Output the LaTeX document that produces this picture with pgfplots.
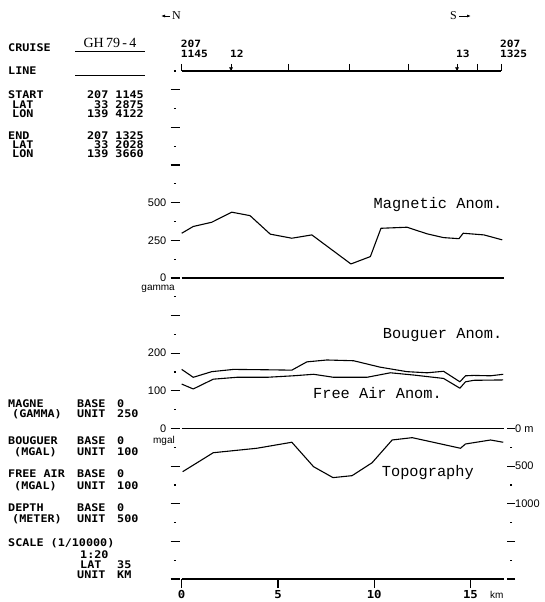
\documentclass[border=0pt]{standalone}
\usepackage{fontspec}
\setmainfont{Liberation Serif}
\newfontfamily\plotter{DejaVu Sans Mono}[FakeStretch=1.12]
\newfontfamily\cour{Liberation Mono}
\newfontfamily\helv{Liberation Sans}
\usepackage{pgfplots}
\pgfplotsset{compat=1.18}
\usetikzlibrary{arrows.meta}
\newcommand\pf{\plotter\bfseries\fontsize{10.5}{10.5}\selectfont}
\newcommand\cf{\cour\fontsize{15.3}{15.3}\selectfont}
\newcommand\hf{\helv\fontsize{11}{11}\selectfont}
\pgfplotsset{
  base/.style={scale only axis, width=321.9pt, height=508pt, xmin=0, xmax=16.72,
    at={(181.7pt,23pt)}, anchor=south west, clip=false},
  curve/.style={black, line width=1.1pt, line join=round},
  zero/.style={black, line width=1.6pt},
}
\begin{document}
\begin{tikzpicture}
\useasboundingbox (0,0) rectangle (545pt,602pt);

% ---------- magnetic ----------
\begin{axis}[base, hide axis, ymin=-2000, ymax=1375]
\addplot[curve] coordinates {(0,297) (0.6,342) (1.56,370) (2.6,437) (3.55,414) (4.6,291) (5.72,264) (6.76,286) (8.79,93) (9.8,142) (10.35,330) (11.7,337) (12.75,293) (13.6,268) (14.4,261) (14.62,297) (15.7,286) (16.65,253)};
\addplot[zero] coordinates {(0,0) (16.72,0)};
\node[anchor=east, inner sep=0pt, font=\cf] at (axis cs:16.66,490) {Magnetic Anom.};
\end{axis}

% ---------- gravity ----------
\begin{axis}[base, hide axis, ymin=-400, ymax=950]
\addplot[curve] coordinates {(0,157) (0.6,136) (1.56,151) (2.7,157) (4.42,156) (5.72,155) (6.5,177) (7.54,182) (8.93,180) (10.3,163) (11.7,151) (12.75,148) (13.6,152) (14.45,124) (14.74,140) (15.17,141) (16.04,140) (16.7,144)};
\addplot[curve] coordinates {(0,118) (0.6,105) (1.64,131) (2.86,136) (4.42,136) (5.8,140) (6.85,144) (7.89,136) (9.62,136) (10.84,148) (12.05,142) (13.6,133) (14.45,107) (14.74,124) (15.17,128) (16.7,129)};
\addplot[zero] coordinates {(0,0) (16.72,0)};
\node[anchor=east, inner sep=0pt, font=\cf] at (axis cs:16.66,249) {Bouguer Anom.};
\node[anchor=west, inner sep=0pt, font=\cf] at (axis cs:6.82,94) {Free Air Anom.};
\end{axis}

% ---------- topography ----------
\begin{axis}[base, hide axis, ymin=-2000, ymax=4750]
\addplot[curve] coordinates {(0.05,-574) (1.64,-322) (3.9,-263) (5.72,-183) (6.85,-508) (7.86,-653) (8.85,-627) (9.89,-455) (10.93,-153) (11.97,-122) (12.92,-175) (14.48,-263) (14.74,-206) (16.04,-153) (16.7,-183)};
\node[anchor=west, inner sep=0pt, font=\cf] at (axis cs:10.39,-582) {Topography};
\end{axis}

% ---------- bottom distance axis ----------
\begin{axis}[base, ymin=0, ymax=27, axis x line*=bottom, hide y axis,
  x axis line style={-, line width=1.2pt},
  tick align=outside, major tick length=9pt, tick style={black, line width=1.2pt},
  xtick={0,5,10,15}, xticklabels={0,5,10,15},
  xticklabel style={font=\plotter\bfseries\fontsize{11}{11}\selectfont, inner sep=0pt, yshift=-2pt}]
\end{axis}
\node[anchor=west, inner sep=0pt, font=\helv\fontsize{10}{10}\selectfont] at (490pt,7pt) {km};

% ---------- top time axis ----------
\begin{axis}[scale only axis, width=319.3pt, height=10pt, at={(181.7pt,531pt)}, anchor=north west,
  xmin=0, xmax=16.63, ymin=0, ymax=1, axis x line*=top, hide y axis, clip=false,
  x axis line style={-, line width=1.1pt},
  tick align=outside, major tick length=7pt, tick style={black, line width=1pt},
  xtick={0,2.57,5.54,8.72,11.79,14.34,15.43,16.63},
  xticklabels={{207\\1145},12,{},{},{},13,{},{207\\1325}},
  xticklabel style={anchor=south west, align=left, font=\plotter\bfseries\fontsize{10}{10}\selectfont, inner sep=0pt, xshift=-1pt, yshift=6pt}]
\addplot[only marks, mark=triangle*, mark size=1.8pt, mark options={rotate=180}, yshift=2.5pt] coordinates {(2.57,1) (14.34,1)};
\end{axis}

% ---------- left tick column ----------
\begin{axis}[scale only axis, width=5pt, height=508pt, at={(175pt,23pt)}, anchor=south west,
  xmin=0, xmax=1, ymin=0, ymax=27, axis y line*=left, hide x axis,
  y axis line style={draw=none},
  tick align=center, major tick length=9pt, minor tick length=2.2pt,
  tick style={black, line width=1.2pt},
  ytick={0,2,...,26}, minor ytick={1,3,...,27},
  yticklabels={{},{},{},{},0,100,200,{},0,250,500,{},{},{}},
  yticklabel style={font=\hf, anchor=east, inner sep=0pt, text height=7.5pt, text depth=0pt, xshift=-4pt}]
\end{axis}
\node[anchor=east, inner sep=0pt, font=\helv\fontsize{10}{10}\selectfont] at (175pt,313pt) {gamma};
\node[anchor=north east, inner sep=0pt, text height=6.5pt, text depth=2pt, font=\helv\fontsize{10}{10}\selectfont] at (175pt,165.5pt) {mgal};

% ---------- right tick column ----------
\begin{axis}[scale only axis, width=5pt, height=508pt, at={(511pt,23pt)}, anchor=south east,
  xmin=0, xmax=1, ymin=0, ymax=27, axis y line*=right, hide x axis,
  y axis line style={draw=none},
  tick align=center, major tick length=8pt, minor tick length=2.2pt,
  tick style={black, line width=1.2pt},
  ytick={0,2,4,6,8}, minor ytick={1,3,5,7},
  yticklabels={{},{},1000,500,0 m},
  yticklabel style={font=\hf, anchor=west, inner sep=0pt, text height=7.5pt, text depth=0pt}]
\end{axis}

% ---------- direction ----------
\draw[line width=0.8pt, -{Latex[length=4pt,width=3pt]}] (170pt,586pt) -- (161pt,586pt);
\node[anchor=west, inner sep=0pt, font=\fontsize{12}{12}\selectfont] at (172pt,586pt) {N};
\node[anchor=east, inner sep=0pt, font=\fontsize{12}{12}\selectfont] at (457pt,586pt) {S};
\draw[line width=0.8pt, -{Latex[length=4pt,width=3pt]}] (459pt,586pt) -- (471pt,586pt);

% ---------- header ----------
\node[anchor=center, inner sep=0pt, font=\fontsize{14}{14}\selectfont] at (110pt,559pt) {GH\,79\,-\,4};
\draw[line width=1pt] (75pt,550pt) -- (145pt,550pt);
\draw[line width=1pt] (75pt,526pt) -- (145pt,526pt);
\begin{scope}[every node/.style={inner sep=0pt, font=\pf, text height=7.6pt, text depth=0pt}]
\node[anchor=west] at (8pt,554pt) {CRUISE};
\node[anchor=west] at (8pt,531pt) {LINE};
\node[anchor=west] at (8pt,507pt) {START};
\node[anchor=west] at (12pt,497.5pt) {LAT};
\node[anchor=west] at (12pt,488pt) {LON};
\node[anchor=west] at (8pt,466pt) {END};
\node[anchor=west] at (12pt,457pt) {LAT};
\node[anchor=west] at (12pt,448pt) {LON};
\node[anchor=east] at (144pt,507pt) {207 1145};
\node[anchor=east] at (144pt,497.5pt) {33 2875};
\node[anchor=east] at (144pt,488pt) {139 4122};
\node[anchor=east] at (144pt,466pt) {207 1325};
\node[anchor=east] at (144pt,457pt) {33 2028};
\node[anchor=east] at (144pt,448pt) {139 3660};
% lower block
\node[anchor=west] at (8pt,198pt) {MAGNE};
\node[anchor=west] at (12pt,188pt) {(GAMMA)};
\node[anchor=west] at (77pt,198pt) {BASE};
\node[anchor=west] at (77pt,188pt) {UNIT};
\node[anchor=west] at (117pt,198pt) {0};
\node[anchor=west] at (117pt,188pt) {250};
\node[anchor=west] at (8pt,161pt) {BOUGUER};
\node[anchor=west] at (14pt,150pt) {(MGAL)};
\node[anchor=west] at (77pt,161pt) {BASE};
\node[anchor=west] at (77pt,150pt) {UNIT};
\node[anchor=west] at (117pt,161pt) {0};
\node[anchor=west] at (117pt,150pt) {100};
\node[anchor=west] at (8pt,128pt) {FREE AIR};
\node[anchor=west] at (14pt,116pt) {(MGAL)};
\node[anchor=west] at (77pt,128pt) {BASE};
\node[anchor=west] at (77pt,116pt) {UNIT};
\node[anchor=west] at (117pt,128pt) {0};
\node[anchor=west] at (117pt,116pt) {100};
\node[anchor=west] at (8pt,94pt) {DEPTH};
\node[anchor=west] at (12pt,83pt) {(METER)};
\node[anchor=west] at (77pt,94pt) {BASE};
\node[anchor=west] at (77pt,83pt) {UNIT};
\node[anchor=west] at (117pt,94pt) {0};
\node[anchor=west] at (117pt,83pt) {500};
\node[anchor=west] at (8pt,59pt) {SCALE (1/10000)};
\node[anchor=west] at (80pt,47pt) {1:20};
\node[anchor=west] at (80pt,37pt) {LAT};
\node[anchor=west] at (117pt,37pt) {35};
\node[anchor=west] at (77pt,27pt) {UNIT};
\node[anchor=west] at (117pt,27pt) {KM};
\end{scope}
\end{tikzpicture}
\end{document}
